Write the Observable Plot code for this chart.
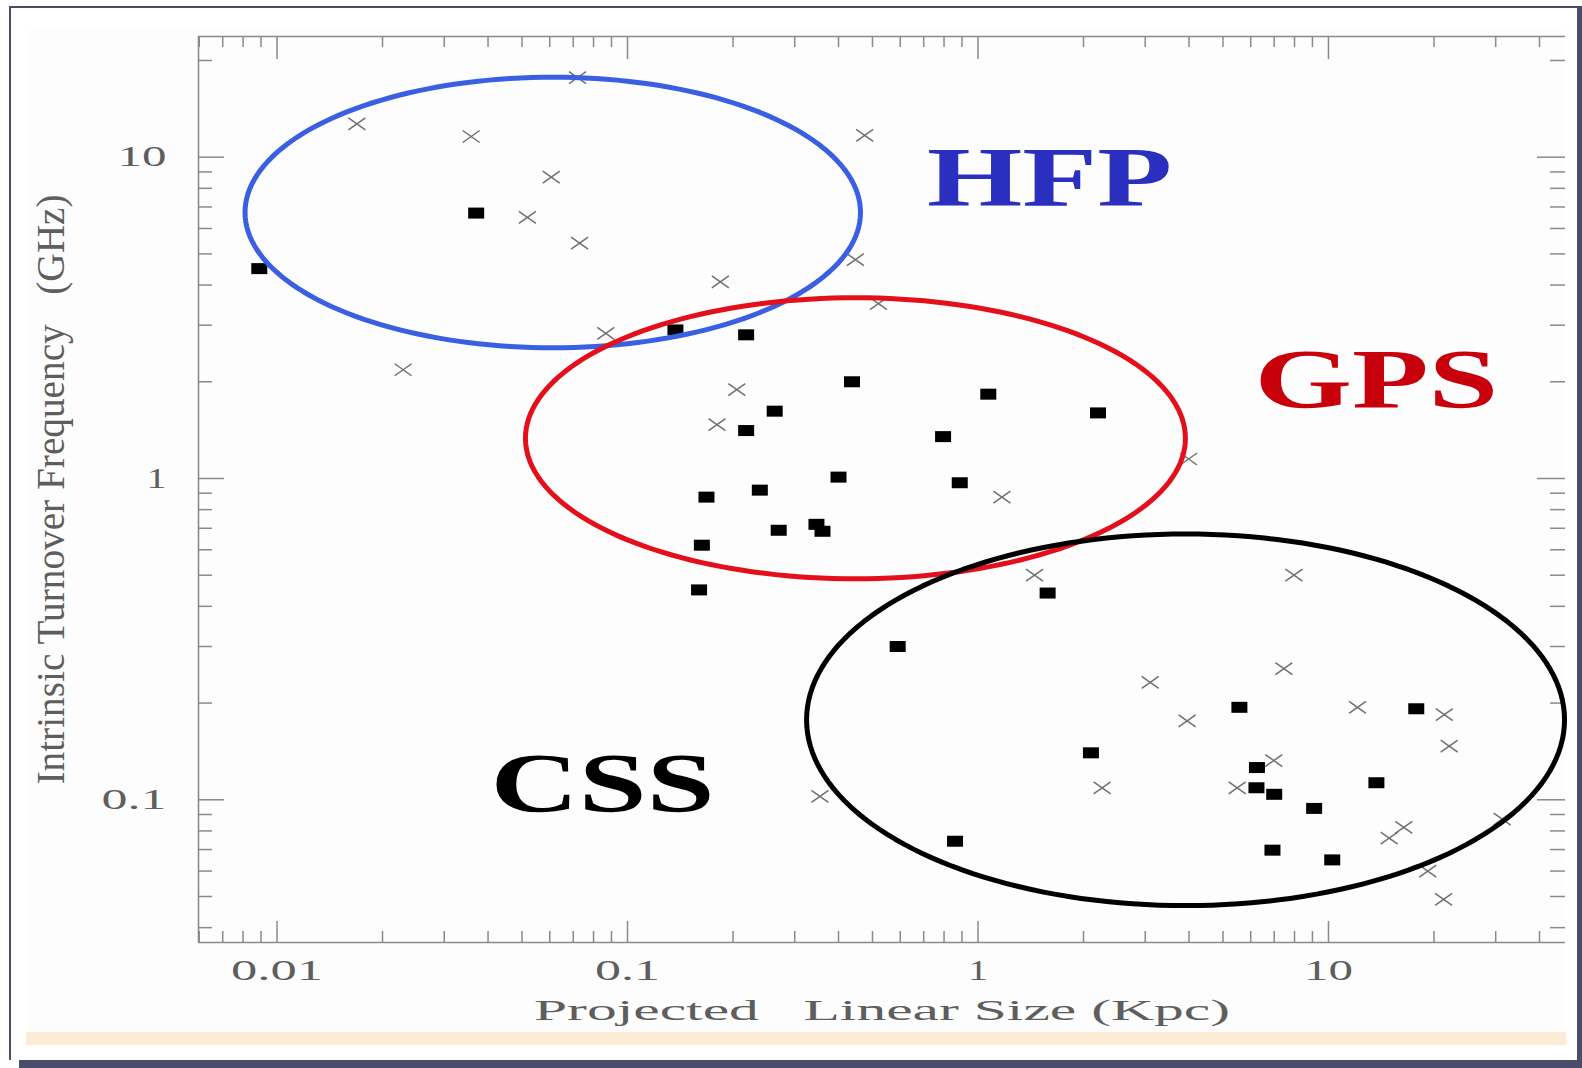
<!DOCTYPE html>
<html>
<head>
<meta charset="utf-8">
<script src="https://cdn.jsdelivr.net/npm/d3@7"></script>
<script src="https://cdn.jsdelivr.net/npm/@observablehq/plot@0.6"></script>
<style>
  html, body { margin: 0; padding: 0; background: #fff; overflow: hidden; }
  #wrap { position: relative; width: 1582px; height: 1068px; background: #fff; overflow: hidden; }
  .deco { position: absolute; }
  #chart { position: absolute; left: 0; top: 0; }
  #chart svg text { white-space: pre; }
</style>
</head>
<body>
<div id="wrap">
  <div class="deco" style="left:26px;top:26px;width:1540px;height:1019px;background:#fdfdfd"></div>
  <div class="deco" style="left:26px;top:1032px;width:1540px;height:13px;background:#fcecd6"></div>
  <div id="chart"></div>
  <div class="deco" style="left:9px;top:6px;width:1573px;height:2px;background:#4a4c6c"></div>
  <div class="deco" style="left:9px;top:6px;width:2px;height:1054px;background:#4a4c6c"></div>
  <div class="deco" style="left:1577px;top:6px;width:5px;height:1062px;background:#4a4c6c"></div>
  <div class="deco" style="left:19px;top:1060px;width:1563px;height:8px;background:#4a4c6c"></div>
</div>
<script>
// ---- Data ----
// Filled squares (Projected linear size in kpc, turnover frequency in GHz)
const squareSize = [0.0089, 0.037, 0.137, 0.218, 0.437, 1.07, 2.2, 0.263, 0.218, 0.795, 0.40, 0.2385, 0.168, 0.887, 0.27, 0.346, 0.36, 0.163, 0.16, 1.58, 0.59, 5.57, 2.1, 6.25, 6.23, 7.0, 6.92, 0.86, 9.1, 10.25, 13.7, 17.8];
const squareFreq = [4.5, 6.7, 2.9, 2.8, 2.0, 1.83, 1.6, 1.62, 1.41, 1.35, 1.01, 0.92, 0.875, 0.97, 0.69, 0.72, 0.685, 0.62, 0.45, 0.44, 0.30, 0.194, 0.14, 0.126, 0.109, 0.104, 0.0697, 0.0743, 0.094, 0.065, 0.113, 0.192];
// Crosses
const crossSize = [0.072, 0.0169, 0.0358, 0.475, 0.0606, 0.0518, 0.073, 0.447, 0.184, 0.52, 0.0867, 0.0229, 0.205, 0.18, 3.99, 1.17, 1.45, 7.97, 7.46, 3.1, 3.95, 12.1, 21.4, 22.1, 6.98, 5.49, 2.26, 0.354, 16.4, 14.9, 31.3, 19.2, 21.3];
const crossFreq = [17.7, 12.7, 11.6, 11.7, 8.67, 6.5, 5.4, 4.8, 4.09, 3.5, 2.83, 2.18, 1.89, 1.47, 1.15, 0.875, 0.50, 0.50, 0.256, 0.232, 0.176, 0.194, 0.184, 0.147, 0.1325, 0.109, 0.109, 0.1024, 0.082, 0.076, 0.087, 0.060, 0.049];

// Class ellipses: centre (kpc, GHz) and half-axes in decades
const ellipseNames = ["HFP", "GPS", "CSS"];
const ellipseCenterX = [0.0612, 0.447, 3.91];
const ellipseCenterY = [6.73, 1.334, 0.1774];
const ellipseRadiusX = [0.878, 0.9415, 1.0813];
const ellipseRadiusY = [0.4211, 0.4373, 0.5783];
const ellipseColors = ["#3a5fe3", "#e3101c", "#000000"];

// Class labels
const labelText = ["HFP", "GPS", "CSS"];
const labelX = [1.60, 13.7, 0.0849];
const labelY = [7.07, 1.652, 0.0913];
const labelColors = ["#2a2fbf", "#c8000c", "#000000"];

// Axes
const xDomain = [0.00597, 47.45];
const yDomain = [0.03596, 23.75];
const xMajorTicks = [0.01, 0.1, 1, 10];
const xTickLabels = ["0.01", "0.1", "1", "10"];
const xMinorTicks = [0.006, 0.007, 0.008, 0.009, 0.02, 0.03, 0.04, 0.05, 0.06, 0.07, 0.08, 0.09, 0.2, 0.3, 0.4, 0.5, 0.6, 0.7, 0.8, 0.9, 2, 3, 4, 5, 6, 7, 8, 9, 20, 30, 40];
const yMajorTicks = [0.1, 1, 10];
const yTickLabels = ["0.1", "1", "10"];
const yMinorTicks = [0.04, 0.05, 0.06, 0.07, 0.08, 0.09, 0.2, 0.3, 0.4, 0.5, 0.6, 0.7, 0.8, 0.9, 2, 3, 4, 5, 6, 7, 8, 9, 20];
const xTitle = "Projected   Linear Size (Kpc)";
const yTitle = "Intrinsic Turnover Frequency   (GHz)";

// ---- Layout / style ----
const W = 1582, H = 1068;
const mL = 198, mT = 36, mR = 17, mB = 126;
const plotW = W - mL - mR, plotH = H - mT - mB;
const serif = "Liberation Serif, Times New Roman, serif";
const axisGray = "#8a8a8a";
const textGray = "#5e5e5e";
const textWidths = {
  "0.01": 92, "0.1": 65, "1": 20, "10": 49,
  [xTitle]: 696, [yTitle]: 590,
  "HFP": 245, "GPS": 244, "CSS": 224
};

const rectSymbol = { draw(ctx) { ctx.rect(-8, -5.5, 16, 11); } };
const crossSymbol = { draw(ctx) { ctx.moveTo(-8.5, -6); ctx.lineTo(8.5, 6); ctx.moveTo(-8.5, 6); ctx.lineTo(8.5, -6); } };

const squares = squareSize.map((x, i) => ({ x, y: squareFreq[i] }));
const crosses = crossSize.map((x, i) => ({ x, y: crossFreq[i] }));
const labels = labelText.map((t, i) => ({ t, x: labelX[i], y: labelY[i], c: labelColors[i] }));

function ellipsePoints(i) {
  return d3.range(0, 361, 2).map(a => {
    const t = a * Math.PI / 180;
    return {
      x: ellipseCenterX[i] * Math.pow(10, ellipseRadiusX[i] * Math.cos(t)),
      y: ellipseCenterY[i] * Math.pow(10, ellipseRadiusY[i] * Math.sin(t))
    };
  });
}

const marks = [
  // axis lines
  Plot.ruleX([xDomain[0]], { stroke: axisGray, strokeWidth: 1.6 }),
  Plot.ruleY([yDomain[0]], { stroke: axisGray, strokeWidth: 1.6 }),
  Plot.ruleY([yDomain[1]], { stroke: axisGray, strokeWidth: 1.6 }),
  // bottom ticks
  Plot.tickX(xMajorTicks, { x: d => d, insetTop: plotH - 21, stroke: axisGray, strokeWidth: 1.5 }),
  Plot.tickX(xMinorTicks, { x: d => d, insetTop: plotH - 11, stroke: axisGray, strokeWidth: 1.5 }),
  // top ticks
  Plot.tickX(xMajorTicks, { x: d => d, insetBottom: plotH - 23, stroke: axisGray, strokeWidth: 1.5 }),
  Plot.tickX(xMinorTicks, { x: d => d, insetBottom: plotH - 11, stroke: axisGray, strokeWidth: 1.5 }),
  // left ticks
  Plot.tickY(yMajorTicks, { y: d => d, insetRight: plotW - 26, stroke: axisGray, strokeWidth: 1.5 }),
  Plot.tickY(yMinorTicks, { y: d => d, insetRight: plotW - 14, stroke: axisGray, strokeWidth: 1.5 }),
  // right ticks
  Plot.tickY(yMajorTicks, { y: d => d, insetLeft: plotW - 28, stroke: axisGray, strokeWidth: 1.5 }),
  Plot.tickY(yMinorTicks, { y: d => d, insetLeft: plotW - 15, stroke: axisGray, strokeWidth: 1.5 }),
  // tick labels
  Plot.text(xMajorTicks, { x: d => d, text: (d, i) => xTickLabels[i], frameAnchor: "bottom", dy: 28, lineAnchor: "middle", fontFamily: serif, fontSize: 29, fill: textGray }),
  Plot.text(yMajorTicks, { y: d => d, text: (d, i) => yTickLabels[i], frameAnchor: "left", dx: -32, textAnchor: "end", lineAnchor: "middle", fontFamily: serif, fontSize: 29, fill: textGray }),
  // axis titles
  Plot.text([xTitle], { text: d => d, frameAnchor: "bottom", dy: 77, lineAnchor: "bottom", textAnchor: "middle", fontFamily: serif, fontSize: 30, fill: textGray }),
  Plot.text([yTitle], { text: d => d, frameAnchor: "left", dx: -147, rotate: -90, lineAnchor: "middle", textAnchor: "middle", fontFamily: serif, fontSize: 40, fill: textGray }),
  // points
  Plot.dot(crosses, { x: "x", y: "y", symbol: crossSymbol, fill: "none", stroke: "#707070", strokeWidth: 1.5 }),
  Plot.dot(squares, { x: "x", y: "y", symbol: rectSymbol, fill: "#000", stroke: "none" }),
  // ellipses
  ...ellipseNames.map((n, i) => Plot.line(ellipsePoints(i), { x: "x", y: "y", stroke: ellipseColors[i], strokeWidth: 5, curve: "linear" })),
  // class labels
  ...labels.map(l => Plot.text([l], { x: "x", y: "y", text: "t", lineAnchor: "bottom", textAnchor: "middle", fontFamily: serif, fontWeight: "bold", fontSize: 84, fill: l.c }))
];

const svg = Plot.plot({
  width: W, height: H,
  marginLeft: mL, marginTop: mT, marginRight: mR, marginBottom: mB,
  style: { background: "transparent", overflow: "visible" },
  x: { type: "log", domain: xDomain, axis: null },
  y: { type: "log", domain: yDomain, axis: null },
  marks
});

d3.select(svg).selectAll("text").each(function () {
  const t = this.textContent;
  if (textWidths[t] !== undefined) {
    this.setAttribute("textLength", textWidths[t]);
    this.setAttribute("lengthAdjust", "spacingAndGlyphs");
  }
});

document.getElementById("chart").appendChild(svg);
</script>
</body>
</html>
